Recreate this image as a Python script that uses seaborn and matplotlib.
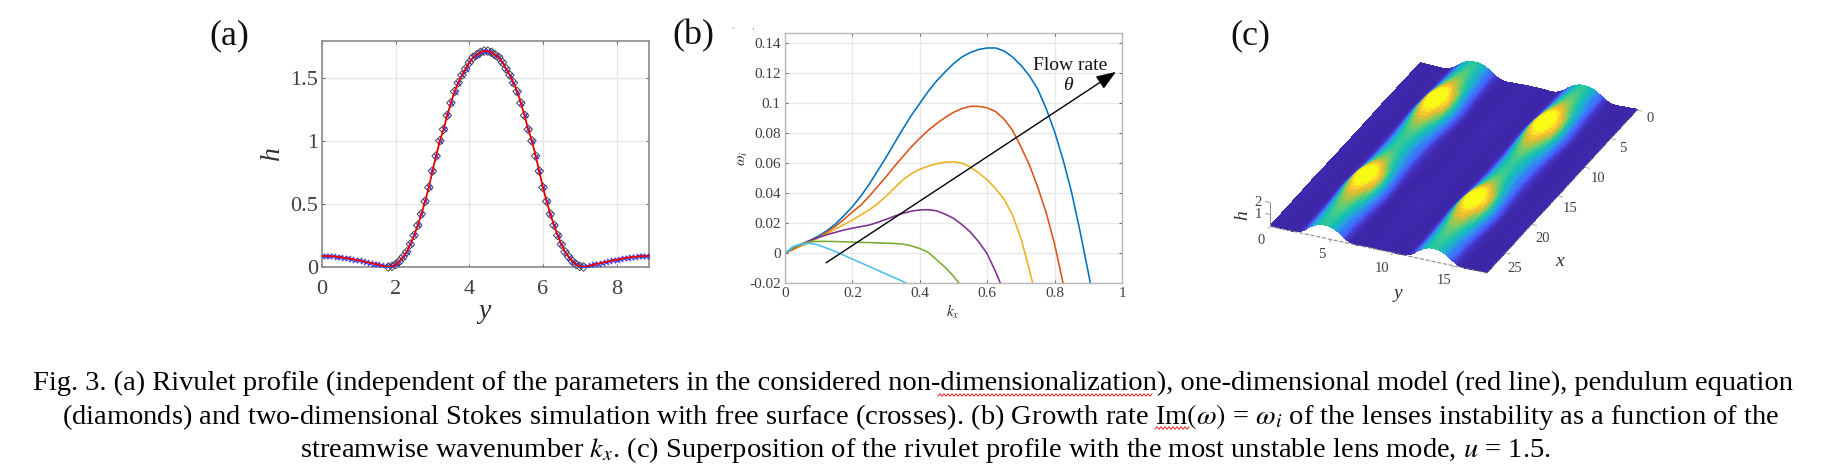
import numpy as np
import pandas as pd
import matplotlib
matplotlib.use("Agg")
import matplotlib.pyplot as plt
from matplotlib.colors import LinearSegmentedColormap
from matplotlib.lines import Line2D
from mpl_toolkits.mplot3d import proj3d
import seaborn as sns

W, H = 1831, 466

# ---------- panel (a) ----------
rivulet_y = [i / 10 for i in range(90)]
rivulet_h = [0.088, 0.087, 0.086, 0.084, 0.081, 0.078, 0.074, 0.069, 0.064, 0.058,
             0.052, 0.046, 0.040, 0.034, 0.027, 0.020, 0.012, 0.005, 0.000, 0.005,
             0.020, 0.045, 0.080, 0.120, 0.180, 0.250, 0.330, 0.420, 0.520, 0.630,
             0.760, 0.880, 1.000, 1.090, 1.200, 1.300, 1.390, 1.460, 1.520, 1.570,
             1.620, 1.660, 1.680, 1.700, 1.710,
             1.710, 1.700, 1.680, 1.660, 1.620, 1.570, 1.520, 1.460, 1.390, 1.300,
             1.200, 1.090, 1.000, 0.880, 0.760, 0.630, 0.520, 0.420, 0.330, 0.250,
             0.180, 0.120, 0.080, 0.045, 0.020, 0.005, 0.000, 0.005, 0.012, 0.020,
             0.027, 0.034, 0.040, 0.046, 0.052, 0.058, 0.064, 0.069, 0.074, 0.078,
             0.081, 0.084, 0.086, 0.087, 0.088]
diamond_first, diamond_last = 18, 71
a_xticks = [0, 2, 4, 6, 8]
a_yticks = [0, 0.5, 1, 1.5]
a_yticklabels = ["0", "0.5", "1", "1.5"]

# ---------- panel (b) ----------
k_grid = [i * 0.025 for i in range(38)]
w_blue = [0, .0035, .006, .0085, .0115, .015, .0195, .025, .031, .038, .046, .055, .064, .0735,
          .083, .092, .1, .108, .115, .121, .1265, .131, .134, .136, .137, .137, .135, .131,
          .1255, .1185, .1095, .0965, .081, .0625, .041, .015, -.013, -.042]
w_orange = [0, .0025, .005, .0075, .0105, .014, .018, .0225, .0275, .032, .038, .0445, .051, .058,
            .0645, .071, .0767, .082, .0865, .0905, .094, .0965, .098, .098, .097, .0945, .0895,
            .082, .071, .059, .044, .027, .006, -.02, -.05]
w_yellow = [0, .0025, .005, .0075, .0102, .013, .0162, .019, .022, .0255, .0288, .033, .038, .0435,
            .049, .053, .056, .058, .0597, .0607, .061, .06, .0575, .0535, .049, .043, .036,
            .0255, .01, -.011, -.034]
w_purple = [0, .003, .006, .0085, .0105, .0123, .0139, .0154, .0166, .0177, .0187, .0205, .0225,
            .0247, .0265, .028, .0288, .029, .0282, .026, .0232, .019, .014, .0075, -.0005,
            -.0125, -.026]
w_green = [0, .0035, .0062, .0075, .0078, .0078, .0077, .0075, .0073, .0071, .007, .0068, .0066,
           .0064, .006, .0048, .003, .0005, -.0045, -.0095, -.0155, -.0225, -.031]
w_cyan = [0, .0045, .0062, .0065, .0053, .0032, .001, -.0015, -.004, -.0065, -.009, -.0115, -.014,
          -.0165, -.019, -.022]
b_series = {"s1": w_blue, "s2": w_orange, "s3": w_yellow, "s4": w_purple, "s5": w_green, "s6": w_cyan}
b_colors = ["#0072BD", "#D95319", "#EDB120", "#7E2F8E", "#77AC30", "#4DBEEE"]
b_xticks = [0, 0.2, 0.4, 0.6, 0.8, 1]
b_xticklabels = ["0", "0.2", "0.4", "0.6", "0.8", "1"]
b_yticks = [-0.02, 0, 0.02, 0.04, 0.06, 0.08, 0.1, 0.12, 0.14]
b_yticklabels = ["-0.02", "0", "0.02", "0.04", "0.06", "0.08", "0.1", "0.12", "0.14"]

# ---------- panel (c) ----------
lens_x = [i * 0.5 for i in range(58)]
lens_amp = [1.10, 1.11, 1.13, 1.15, 1.18, 1.21, 1.25, 1.30, 1.36, 1.43, 1.51, 1.60, 1.69, 1.76, 1.80,
            1.79, 1.74, 1.66, 1.57, 1.48, 1.40, 1.33, 1.27, 1.22, 1.18, 1.15, 1.13, 1.12, 1.11, 1.12,
            1.13, 1.15, 1.18, 1.22, 1.27, 1.33, 1.41, 1.50, 1.60, 1.70, 1.77, 1.80, 1.77, 1.70, 1.61,
            1.52, 1.44, 1.37, 1.31, 1.26, 1.22, 1.19, 1.16, 1.14, 1.12, 1.11, 1.10, 1.10]
parula = ["#3E26A8", "#4743E0", "#4367FD", "#2F88F0", "#2AA5DC", "#10BBBA", "#30C89A", "#6FCC6B",
          "#B5C440", "#EDBA30", "#FCD42E", "#F9FB15"]
c_xticks = [0, 5, 10, 15, 20, 25]
c_yticks = [0, 5, 10, 15]
c_zticks = [0, 1, 2]

caption = [
    "Fig. 3. (a) Rivulet profile (independent of the parameters in the considered non-dimensionalization), one-dimensional model (red line), pendulum equation",
    r"(diamonds) and two-dimensional Stokes simulation with free surface (crosses). (b) Growth rate Im$(\omega)$ = $\omega_i$ of the lenses instability as a function of the",
    r"streamwise wavenumber $k_x$. (c) Superposition of the rivulet profile with the most unstable lens mode, $u$ = 1.5.",
]

sns.set_theme(style="white")
plt.rcParams["font.family"] = ["Liberation Serif", "DejaVu Serif"]
plt.rcParams["mathtext.fontset"] = "stix"

fig = plt.figure(figsize=(W / 100, H / 100), dpi=100, facecolor="white")


def rect(l, t, r, b):
    return [l / W, 1 - b / H, (r - l) / W, (b - t) / H]


def ftext(x, y, s, **kw):
    kw.setdefault("ha", "center")
    kw.setdefault("va", "center")
    return fig.text(x / W, 1 - y / H, s, **kw)


def style(ax, grid_col, spine_col, lw, size, pad, tick_len):
    ax.grid(True, color=grid_col, lw=1)
    ax.set_axisbelow(True)
    for s in ax.spines.values():
        s.set_visible(True)
        s.set_color(spine_col)
        s.set_linewidth(lw)
    ax.tick_params(direction="in", top=True, right=True, bottom=True, left=True, length=tick_len, width=.7,
                   color="#606060", labelsize=size, labelcolor="#404040", pad=pad)
    ax.set_xlabel("")
    ax.set_ylabel("")


# ---------- (a) ----------
ax = fig.add_axes(rect(322, 41, 649, 267))
sns.scatterplot(x=rivulet_y[diamond_first:diamond_last + 1], y=rivulet_h[diamond_first:diamond_last + 1], ax=ax,
                marker="D", facecolor="none", edgecolor="#3a3a3a", s=19, linewidth=.65, zorder=2, clip_on=False)
sns.scatterplot(x=rivulet_y, y=rivulet_h, ax=ax, marker="x", color="#2a2ae8", s=14, linewidth=1.0, zorder=3, alpha=.8)
sns.lineplot(x=rivulet_y, y=rivulet_h, ax=ax, color="#e80000", lw=1.3, zorder=4, errorbar=None)
ax.set_xlim(0, 8.88)
ax.set_ylim(0, 1.79)
ax.set_xticks(a_xticks)
ax.set_yticks(a_yticks, a_yticklabels)
style(ax, "#e6e6e6", "#8a8a8a", 1.2, 16, 3, 2.5)
ax.tick_params(axis="x", pad=9)
ftext(273, 153, "h", fontsize=20, style="italic", rotation=90, color="#303030")
ftext(485, 312, "y", fontsize=20, style="italic", color="#303030")

# ---------- (b) ----------
ax = fig.add_axes(rect(785, 33, 1122, 283))
long = pd.concat([pd.DataFrame({"k": k_grid[:len(v)], "w": v, "s": n}) for n, v in b_series.items()])
sns.lineplot(data=long, x="k", y="w", hue="s", palette=b_colors, ax=ax, lw=1.15, legend=False, errorbar=None, sort=False)
ax.set_xlim(0, 1)
ax.set_ylim(-0.02, 0.147)
ax.set_xticks(b_xticks, b_xticklabels)
ax.set_yticks(b_yticks, b_yticklabels)
style(ax, "#e8e8e8", "#b8b8b8", 1.0, 11, 3, 2)
ax.annotate("", xy=(0.982, 0.121), xytext=(0.122, -0.0065),
            arrowprops=dict(arrowstyle="-|>,head_length=0.8,head_width=0.3", mutation_scale=15, color="black",
                            lw=1.0, shrinkA=0, shrinkB=0))
ftext(1070, 65, "Flow rate", fontsize=14, color="#111111")
ftext(1068, 85, "θ", fontsize=14, style="italic", color="#111111")
ftext(743, 158, r"$\omega_i$", fontsize=11, rotation=90, color="#303030")
ftext(953, 312, r"$k_x$", fontsize=11, color="#303030")
ftext(733, 32, "`", fontsize=6, color="#555555")
ftext(753, 32, "'", fontsize=6, color="#555555")

# ---------- (c) ----------
profile = np.array(rivulet_h + rivulet_h[:-1]) / max(rivulet_h)
cy = np.array(rivulet_y + [v + 8.88 for v in rivulet_y[:-1]])
keep = cy <= 17.76
cy, profile = cy[keep], profile[keep]
cx = np.array(lens_x)
xmax, ymax = cx[-1], cy[-1]
Y, X = np.meshgrid(cy, cx)
Z = np.outer(np.array(lens_amp), profile)
cmap = LinearSegmentedColormap.from_list("parula_like", parula)
ax3 = fig.add_axes([0.6, 0.1, 0.3, 0.3 * W / H], projection="3d")
ax3.set_proj_type("ortho")
ax3.view_init(elev=28.9, azim=24.0)
ax3.set_xlim(0, xmax, view_margin=0)
ax3.set_ylim(0, ymax, view_margin=0)
ax3.set_zlim(0, 2, view_margin=0)
ax3.set_box_aspect((371, 238.6, 27.4))
ax3.set_axis_off()
ax3.patch.set_alpha(0)
ax3.plot_surface(X, Y, Z, facecolors=cmap(np.clip(Z / 1.62, 0, 1) ** 1.6), rstride=1, cstride=1, shade=False,
                 linewidth=0, antialiased=False, edgecolor="none")
grey = "#8a8a8a"
ax3.plot([xmax, xmax], [0, ymax], [0, 0], color=grey, lw=.8, ls="--", zorder=5)
ax3.plot([0, xmax], [ymax, ymax], [0, 0], color=grey, lw=.6, ls="--", zorder=5)
ax3.plot([xmax, xmax], [0, 0], [0, 2], color=grey, lw=.7)
for t in c_zticks[1:]:
    ax3.plot([xmax, xmax], [0, -0.4], [t, t], color=grey, lw=.6)
for t in c_yticks:
    ax3.plot([xmax, xmax + .4], [t, t], [0, 0], color=grey, lw=.5)
for t in c_xticks:
    ax3.plot([t, t], [ymax, ymax + .4], [0, 0], color=grey, lw=.5)

target = {(0, 0): (1421, 63), (xmax, 0): (1270, 227), (0, ymax): (1637, 110), (xmax, ymax): (1487, 273)}
for _ in range(3):
    fig.canvas.draw()
    M = ax3.get_proj()
    cur = []
    for (a, b) in target:
        u, v, _z = proj3d.proj_transform(a, b, 0, M)
        cur.append(ax3.transData.transform((u, v)))
    cur = np.array(cur)
    tg = np.array([(px, H - py) for px, py in target.values()], float)
    s = np.ptp(tg[:, 0]) / np.ptp(cur[:, 0])
    pos = ax3.get_position()
    cc_cur = cur.mean(0)
    cc_tg = tg.mean(0)
    side = pos.width * W * s
    axc = np.array([(pos.x0 + pos.width / 2) * W, (pos.y0 + pos.height / 2) * H])
    axc_new = cc_tg + (axc - cc_cur) * s
    ax3.set_position([(axc_new[0] - side / 2) / W, (axc_new[1] - side / 2) / H, side / W, side / H])

lab = dict(fontsize=10.5, color="#404040")
ftext(1258, 203, "2", **lab)
ftext(1258, 215, "1", **lab)
ftext(1261, 241, "0", **lab)
ftext(1243, 215, "h", fontsize=14, style="italic", rotation=90, color="#303030")
for s_, (px, py) in zip(c_yticks[1:], [(1322, 255), (1382, 268), (1444, 281)]):
    ftext(px, py, str(s_), **lab)
for s_, (px, py) in zip(c_xticks, [(1650, 119), (1623, 149), (1598, 178), (1570, 208), (1543, 238), (1515, 268)]):
    ftext(px, py, str(s_), **lab)
ftext(1398, 293, "y", fontsize=14, style="italic", color="#303030")
ftext(1560, 262, "x", fontsize=14, style="italic", color="#303030")

# ---------- panel letters ----------
for s_, px in zip(["(a)", "(b)", "(c)"], [229, 693, 1250]):
    ftext(px, 36, s_, fontsize=26, color="#111111")

# ---------- caption ----------
for line, px, py in zip(caption, [33, 62, 300], [383, 417, 450]):
    ftext(px, py, line, fontsize=20.5, ha="left", color="black")


def squiggle(x0, x1, y):
    xs = np.arange(x0, x1 + 1, 2.0)
    ys = y + np.where(np.arange(len(xs)) % 2 == 0, 1.2, -1.2)
    fig.add_artist(Line2D(xs / W, 1 - ys / H, color="#e02020", lw=.7, transform=fig.transFigure))


squiggle(938, 1152, 395)
squiggle(1155, 1189, 428)

fig.savefig("out.png", dpi=100, facecolor="white")
